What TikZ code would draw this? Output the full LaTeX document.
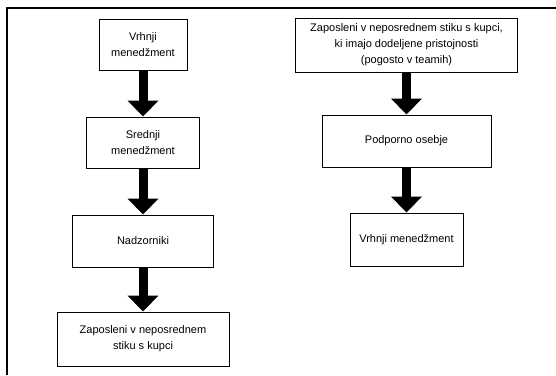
\documentclass[tikz,border=0pt]{standalone}
\usepackage{fontspec}
\setmainfont{Liberation Sans}
\usetikzlibrary{arrows.meta}

\begin{document}
\begin{tikzpicture}[x=1pt, y=-1pt,
  box/.style={draw, line width=0.9pt, align=center, inner sep=2pt,
    font=\fontsize{11}{16}\selectfont},
  bigarrow/.style={line width=9pt, -{Triangle[width=30pt,length=16pt]}}]
  \useasboundingbox (0,0) rectangle (556,375);
  % frame
  \draw[line width=1.5pt] (7,375) -- (7,8) -- (556,8);
  % left column
  \node[box, minimum width=88pt, minimum height=51pt] (vrh) at (143,44.5) {Vrhnji\\menedžment};
  \node[box, minimum width=113pt, minimum height=51pt] (sred) at (143,142.5) {Srednji\\menedžment};
  \node[box, minimum width=141pt, minimum height=52pt] (nadz) at (143,241) {Nadzorniki};
  \node[box, minimum width=172pt, minimum height=54pt] (zap) at (143,339) {Zaposleni v neposrednem\\stiku s kupci};
  \draw[bigarrow] (vrh.south -| sred.north) -- (sred.north);
  \draw[bigarrow] (sred.south -| nadz.north) -- (nadz.north);
  \draw[bigarrow] (nadz.south -| zap.north) -- (zap.north);
  % right column
  \node[box, minimum width=222pt, minimum height=54pt] (team) at (406.5,45) {Zaposleni v neposrednem stiku s kupci,\\ki imajo dodeljene pristojnosti\\(pogosto v teamih)};
  \node[box, minimum width=169pt, minimum height=52pt] (podp) at (406.5,141) {Podporno osebje};
  \node[box, minimum width=113pt, minimum height=53pt] (vrhr) at (406.5,239.5) {Vrhnji menedžment};
  \draw[bigarrow] (team.south -| podp.north) -- (podp.north);
  \draw[bigarrow] (podp.south -| vrhr.north) -- (vrhr.north);
\end{tikzpicture}
\end{document}
